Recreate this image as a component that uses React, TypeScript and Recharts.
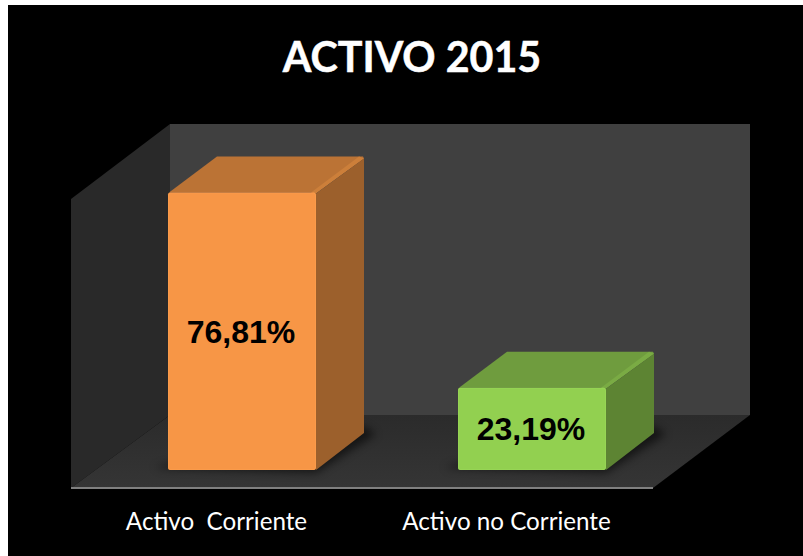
import React from "react";
import { BarChart, Bar, XAxis, YAxis, LabelList, usePlotArea } from "recharts";

const title = "ACTIVO 2015";
const categories = ["Activo  Corriente", "Activo no Corriente"];
const values = [76.81, 23.19];
const valueLabels = ["76,81%", "23,19%"];
const faceColors = ["#F79646", "#92D050"];
const topColors = ["#BB7335", "#6F9C3E"];
const sideColors = ["#9C602C", "#5D8433"];
const edgeColors = ["#FFA24F", "#9EDC5C"];
const topEdgeColors = ["#CC7F3A", "#7AAB44"];

const rows = categories.map((name, i) => ({ name, value: values[i], label: valueLabels[i] }));

const W = 795;
const H = 551;
const BAR_DX = 48;
const BAR_DY = 36;
const WALL_FRONT_DX = 26;
const WALL_FRONT_DY = 18;
const WALL_BACK_DX = 73;
const FLOOR_BACK_DY = 55;
const WALL_TOP_DY = 57;
const LEFT_WALL_DROP = 18;
const FLOOR_RIGHT_INSET = 24;

const pts = (a: number[][]) => a.map((p) => p.join(",")).join(" ");

function Walls() {
  const area = usePlotArea();
  if (!area) return null;
  const l = area.x;
  const r = area.x + area.width;
  const t = area.y;
  const b = area.y + area.height;
  const fx = l - WALL_FRONT_DX;
  const fy = b + WALL_FRONT_DY;
  const bx = l + WALL_BACK_DX;
  const by = b - FLOOR_BACK_DY;
  const rfx = r - FLOOR_RIGHT_INSET;
  const rbx = r + WALL_BACK_DX;
  const topY = t - WALL_TOP_DY;
  return (
    <g>
      <defs>
        <linearGradient id="floorG" x1="0" y1="0" x2="0" y2="1">
          <stop offset="0" stopColor="#2B2B2B" />
          <stop offset="1" stopColor="#353535" />
        </linearGradient>
        <filter id="blurS" x="-30%" y="-30%" width="160%" height="160%">
          <feGaussianBlur stdDeviation="4" />
        </filter>
      </defs>
      <rect x={bx} y={topY} width={rbx - bx} height={by - topY} fill="#404040" />
      <polygon points={pts([[fx, t + LEFT_WALL_DROP], [bx, topY], [bx, by], [fx, fy]])} fill="#292929" />
      <polygon points={pts([[fx, fy], [rfx, fy], [rbx, by], [bx, by]])} fill="url(#floorG)" />
      <line x1={fx} x2={rfx} y1={fy} y2={fy} stroke="#808080" strokeWidth={2} />
    </g>
  );
}

function Box3D(props: any) {
  const { x, y, width, height, index } = props;
  const r = x + width;
  const b = y + height;
  return (
    <g>
      <polygon
        points={pts([[x - 14, b - 2], [r, b + 3], [r + BAR_DX + 12, b - BAR_DY], [r + BAR_DX, b - BAR_DY - 8], [x, b - 6]])}
        fill="#000"
        opacity={0.55}
        filter="url(#blurS)"
      />
      <polygon
        points={pts([[x + 1, y], [x + BAR_DX + 1, y - BAR_DY], [r + BAR_DX - 1, y - BAR_DY], [r + BAR_DX, y - BAR_DY + 2], [r, y]])}
        fill={topColors[index]}
      />
      <polygon
        points={pts([[r - 5, y], [r + BAR_DX - 5, y - BAR_DY], [r + BAR_DX, y - BAR_DY + 2], [r, y + 1]])}
        fill={topEdgeColors[index]}
      />
      <polygon
        points={pts([[r, y + 1], [r + BAR_DX, y - BAR_DY + 2], [r + BAR_DX, b - BAR_DY - 1], [r, b]])}
        fill={sideColors[index]}
      />
      <rect x={x} y={y} width={width} height={height} rx={2} fill={faceColors[index]} />
      <rect x={x + 0.5} y={y + 0.5} width={width - 1} height={height - 1} rx={2} fill="none" stroke={edgeColors[index]} strokeOpacity={0.45} />
    </g>
  );
}

function CategoryTick(props: any) {
  const { x, y, payload } = props;
  return (
    <text
      x={x - 25.5}
      y={y + 54}
      textAnchor="middle"
      fill="#FFFFFF"
      fontFamily="Lato, 'Open Sans', sans-serif"
      fontSize={24.2}
      style={{ whiteSpace: "pre" }}
    >
      {payload.value}
    </text>
  );
}

export default function App() {
  return (
    <div style={{ position: "absolute", left: 8, top: 5, width: W, height: H, background: "#000", overflow: "hidden" }}>
      <BarChart
        width={W}
        height={H}
        data={rows}
        margin={{ top: 176, right: 126, bottom: 0, left: 89 }}
        barCategoryGap={0}
      >
        <Walls />
        <XAxis dataKey="name" height={86} interval={0} axisLine={false} tickLine={false} tickMargin={0} tick={<CategoryTick />} />
        <YAxis hide domain={[0.6, 80]} width={0} />
        <Bar dataKey="value" barSize={148} isAnimationActive={false} shape={<Box3D />}>
          <LabelList
            dataKey="label"
            position="center"
            fill="#000"
            dx={-1}
            fontFamily="'Liberation Sans', Arial, sans-serif"
            fontWeight={700}
            fontSize={32}
          />
        </Bar>
        <text x={404} y={67} textAnchor="middle" fill="#FFF" stroke="#FFF" strokeWidth={0.5} fontFamily="Lato, sans-serif" fontWeight={700} fontSize={41.2}>
          {title}
        </text>
      </BarChart>
    </div>
  );
}
